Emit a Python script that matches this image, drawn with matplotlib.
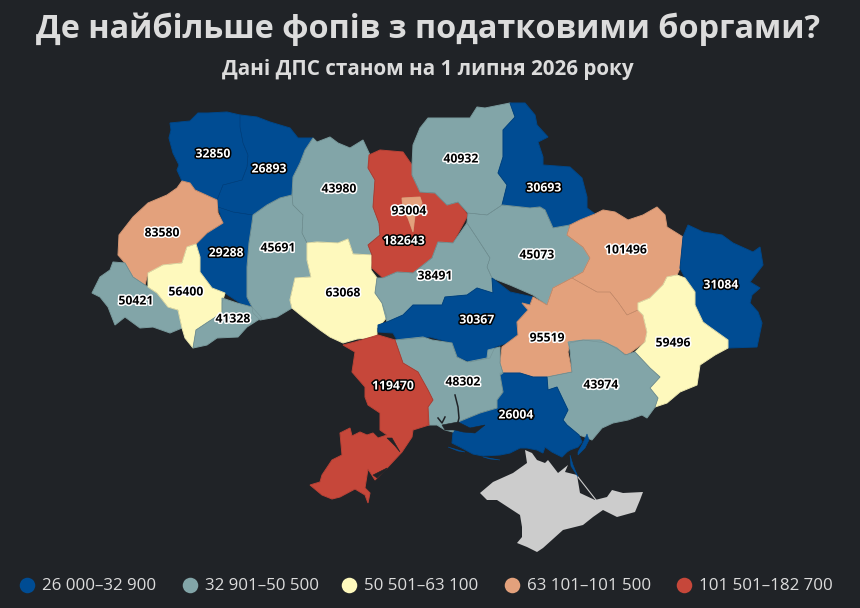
"""Tax-debt FOP map, regions drawn as outlines in picture pixels."""
import matplotlib
matplotlib.use("Agg")
import matplotlib.pyplot as plt
import matplotlib.patheffects as pe
import numpy as np

plt.rcParams["font.family"] = ["Open Sans", "DejaVu Sans"]

BG = "#202327"
TXT = "#dcdcdc"
COLORS = ["#004c93", "#82a5a8", "#fef9bd", "#e3a17c", "#c6473a"]
CRIMEA_COLOR = "#cccccc"

TITLE = "Де найбільше фопів з податковими боргами?"
SUBTITLE = "Дані ДПС станом на 1 липня 2026 року"
LEGEND_LABELS = ["26 000–32 900", "32 901–50 500", "50 501–63 100",
                 "63 101–101 500", "101 501–182 700"]
BIN_TOPS = [32900, 50500, 63100, 101500]

# region outlines (x, y in px of the reference)
VOLYN = [(170,123),(190,121),(198,113),(208,113),(227,112),(240,115),(240,127),(243,143),(248,155),(247,167),(242,180),(223,185),(217,200),(195,190),(190,183),(182,181),(177,170),(179,165),(173,153),(169,138),(171,130)]
RIVNE = [(240,115),(257,117),(270,122),(290,128),(298,138),(313,138),(305,150),(300,163),(293,177),(292,195),(280,198),(267,205),(253,215),(233,212),(218,207),(217,200),(223,185),(242,180),(247,167),(248,155),(243,143),(240,127)]
KHMELNYTSKYI = [(218,207),(223,223),(207,233),(196,244),(200,257),(200,272),(212,288),(225,293),(240,303),(252,307),(247,297),(247,267),(249,243),(252,223),(253,215),(233,212)]
LVIV = [(182,181),(190,183),(195,190),(217,200),(218,213),(223,223),(207,233),(196,244),(187,247),(182,263),(163,265),(148,273),(145,285),(133,277),(125,263),(118,255),(119,235),(133,217),(148,203),(167,195),(177,188)]
ZAKARPATTIA = [(113,262),(125,263),(133,277),(145,285),(148,287),(157,293),(168,307),(178,310),(182,328),(170,333),(153,327),(140,328),(125,317),(115,325),(108,307),(100,297),(92,293),(100,277),(110,270)]
IVANO_FR = [(148,273),(163,265),(182,263),(187,247),(196,244),(200,257),(200,272),(212,288),(225,293),(222,303),(222,313),(208,322),(196,330),(193,348),(185,338),(182,328),(178,310),(168,307),(157,293),(148,287)]
CHERNIVTSI = [(222,298),(237,303),(252,307),(262,318),(258,320),(247,327),(238,337),(217,338),(207,345),(193,348),(196,330),(208,322),(222,313)]
TERNOPIL = [(253,215),(267,205),(280,198),(292,195),(293,205),(303,215),(302,233),(307,243),(307,260),(311,277),(295,278),(290,300),(292,308),(277,317),(260,320),(253,313),(252,307),(247,297),(247,267),(249,243),(252,223)]
ZHYTOMYR = [(313,138),(317,142),(330,137),(338,143),(350,148),(363,140),(370,155),(368,168),(375,180),(373,207),(379,223),(380,235),(368,245),(372,255),(353,254),(348,239),(338,243),(317,242),(307,243),(302,233),(303,215),(293,205),(292,195),(293,177),(300,163),(305,150)]
VINNYTSIA = [(307,243),(317,242),(338,243),(348,239),(353,254),(372,255),(371,270),(377,278),(375,293),(382,303),(387,317),(383,322),(377,328),(377,337),(357,339),(343,343),(330,337),(320,330),(303,317),(292,308),(290,300),(295,278),(311,277),(307,260)]
KYIV_OBL = [(369,155),(380,150),(403,152),(412,165),(412,175),(420,192),(435,193),(447,205),(458,202),(468,215),(453,243),(438,242),(432,258),(413,273),(397,272),(383,278),(372,268),(372,255),(368,245),(380,235),(379,223),(373,207),(375,180),(368,168)]
KYIV_CITY = [(402,198),(420,197),(422,203),(415,215),(413,232),(408,218),(403,210)]
CHERNIHIV = [(412,165),(413,145),(420,128),(428,118),(440,118),(470,118),(477,107),(485,108),(510,103),(515,117),(503,130),(503,157),(498,173),(507,185),(502,205),(487,215),(468,213),(458,202),(447,205),(435,193),(420,192),(412,175)]
SUMY = [(510,103),(525,103),(535,115),(537,125),(548,137),(538,142),(543,157),(543,165),(570,167),(582,178),(587,197),(587,208),(595,214),(580,220),(570,225),(553,228),(545,210),(540,207),(530,208),(502,205),(507,185),(498,173),(503,157),(503,130),(515,117)]
POLTAVA = [(468,213),(487,215),(502,205),(530,208),(540,207),(545,210),(553,228),(570,225),(567,235),(583,247),(590,258),(583,272),(572,278),(553,288),(547,305),(533,295),(510,285),(492,278),(487,267),(490,258),(477,238),(467,223)]
CHERKASY = [(467,223),(477,238),(490,258),(487,267),(492,278),(493,293),(477,288),(467,295),(445,297),(442,305),(413,305),(403,315),(387,322),(382,303),(375,293),(377,278),(383,278),(397,272),(413,273),(432,258),(438,242),(453,243)]
KIROVOHRAD = [(378,325),(387,322),(403,315),(413,305),(442,305),(445,297),(467,295),(477,288),(493,293),(492,278),(510,292),(533,297),(530,305),(522,303),(528,310),(517,322),(518,335),(507,343),(495,347),(490,358),(470,362),(457,357),(452,343),(430,337),(397,340),(393,333),(378,332)]
KHARKIV = [(570,225),(580,220),(595,214),(603,210),(615,212),(628,220),(643,215),(657,207),(665,215),(667,227),(683,237),(680,268),(677,275),(667,277),(663,285),(650,298),(638,303),(638,310),(627,315),(618,302),(610,292),(597,292),(572,278),(583,272),(590,258),(583,247),(567,235)]
DNIPRO = [(500,363),(502,347),(518,335),(517,322),(528,310),(522,303),(530,305),(533,297),(547,305),(553,288),(572,278),(597,292),(610,292),(618,302),(627,315),(638,310),(643,315),(647,332),(645,342),(627,355),(607,343),(583,340),(570,343),(568,352),(572,372),(547,377),(533,377),(520,373),(503,373)]
LUHANSK = [(683,237),(688,225),(703,232),(722,235),(733,243),(753,252),(760,247),(763,265),(750,282),(760,288),(752,295),(750,303),(758,312),(762,323),(757,347),(728,348),(728,340),(707,325),(703,322),(695,305),(695,292),(685,278),(680,268)]
DONETSK = [(667,277),(677,275),(685,278),(695,292),(695,305),(703,322),(707,325),(728,340),(728,348),(715,355),(700,365),(697,385),(680,392),(667,403),(655,407),(658,398),(650,388),(660,377),(650,368),(635,352),(645,342),(647,332),(643,315),(638,310),(638,303),(650,298),(663,285)]
ZAPORIZHZHIA = [(568,342),(583,340),(600,340),(617,348),(625,355),(635,352),(650,368),(660,377),(650,388),(658,398),(655,407),(647,418),(642,415),(628,420),(613,423),(602,428),(592,440),(585,437),(579,435),(567,425),(563,420),(568,410),(557,387),(548,390),(547,377),(572,372),(570,350)]
KHERSON = [(500,373),(520,373),(533,377),(547,377),(548,390),(557,387),(568,410),(563,420),(567,425),(579,435),(582,442),(578,447),(570,450),(567,452),(562,457),(552,452),(545,447),(543,453),(537,450),(527,448),(520,448),(510,453),(500,455),(483,456),(473,454),(460,447),(452,443),(453,433),(458,422),(480,413),(497,408),(497,400),(503,392)]
MYKOLAIV = [(395,340),(423,337),(432,340),(452,343),(457,357),(467,362),(487,358),(488,350),(500,347),(500,363),(503,373),(500,375),(503,392),(497,400),(497,408),(480,413),(458,422),(453,432),(445,430),(437,425),(428,425),(428,407),(433,400),(428,390),(418,372),(403,363)]
ODESA = [(343,345),(355,342),(378,335),(395,340),(403,363),(418,372),(428,390),(433,400),(428,407),(429,425),(413,430),(412,437),(402,452),(388,467),(375,480),(368,469),(365,488),(370,493),(368,503),(365,495),(355,489),(340,497),(332,499),(322,495),(310,485),(320,482),(322,475),(332,460),(342,455),(340,433),(350,428),(352,436),(360,432),(367,435),(373,433),(378,438),(387,435),(380,430),(380,413),(368,405),(365,397),(365,387),(352,372),(355,352)]
CRIMEA = [(525,450),(532,453),(537,460),(545,463),(548,460),(558,473),(568,465),(565,472),(577,475),(580,493),(595,500),(607,497),(612,490),(623,493),(643,492),(640,500),(635,512),(617,517),(603,510),(593,517),(583,525),(563,530),(543,548),(537,552),(527,547),(517,543),(522,537),(522,527),(520,515),(497,500),(487,500),(480,493),(493,482),(513,473),(527,463)]

# water cut out of the land, and thin strips of coast
ESTUARY = [(442,425),(458,422),(470,428),(485,425),(475,433),(463,432),(455,430),(445,430)]
BUG_INLET = [(455,395),(458,407),(459,418),(458,422)]
INLET_BRANCH = [(445,417),(442,423),(438,418)]
LIMAN = [(387,438),(392,438),(400,452),(395,446)]
LAGOON = [(373,475),(387,468),(385,471),(377,478)]
KINBURN = [(448,447),(465,452),(458,451)]
TENDRA = [(483,457),(500,460),(490,459)]
ARABAT = [(570,455),(573,465),(578,477),(571,466)]
SIVASH = [(578,455),(585,448),(589,440),(587,434),(583,443),(578,452)]
ARABAT_TIP = [(578,477),(596,500)]

REGIONS = [VOLYN, RIVNE, KHMELNYTSKYI, LVIV, ZAKARPATTIA, IVANO_FR, CHERNIVTSI,
           TERNOPIL, ZHYTOMYR, VINNYTSIA, KYIV_OBL, KYIV_CITY, CHERNIHIV, SUMY,
           POLTAVA, CHERKASY, KIROVOHRAD, KHARKIV, DNIPRO, LUHANSK, DONETSK,
           ZAPORIZHZHIA, KHERSON, MYKOLAIV, ODESA]
VALUES = [32850, 26893, 29288, 83580, 50421, 56400, 41328,
          45691, 43980, 63068, 182643, 93004, 40932, 30693,
          45073, 38491, 30367, 101496, 95519, 31084, 59496,
          43974, 26004, 48302, 119470]
LABEL_XY = [(213,154), (269,169), (226,253), (162,233), (136,301), (186,292), (233,319),
            (278,248), (339,189), (343,293), (404,241), (409,211), (461,159), (544,188),
            (537,255), (435,276), (477,320), (626,250), (547,338), (721,285), (673,343),
            (601,385), (516,415), (463,382), (393,386)]

fig = plt.figure(figsize=(8.6, 6.08), dpi=100, facecolor=BG)
ax = fig.add_axes([0, 0, 1, 1])
ax.set_xlim(0, 860)
ax.set_ylim(608, 0)
ax.axis("off")

bins = np.digitize(VALUES, BIN_TOPS, right=True)
for outline, b in zip(REGIONS, bins):
    xs, ys = zip(*outline)
    ax.fill(xs, ys, facecolor=COLORS[b], edgecolor=COLORS[b], linewidth=0.7, zorder=2)
# faint borders on top, seen mostly between regions of one colour
for outline in REGIONS:
    xs, ys = zip(*outline)
    ax.fill(xs, ys, facecolor="none", edgecolor=(0, 0, 0, 0.10), linewidth=0.4, zorder=2.5)
# Kyiv city sits on top of the oblast
xs, ys = zip(*KYIV_CITY)
ax.fill(xs, ys, facecolor=COLORS[3], edgecolor="none", zorder=3)

xs, ys = zip(*CRIMEA)
ax.fill(xs, ys, facecolor=CRIMEA_COLOR, edgecolor="none", zorder=2)
for water in [ESTUARY, LIMAN, LAGOON]:
    xs, ys = zip(*water)
    ax.fill(xs, ys, facecolor=BG, edgecolor=BG, linewidth=0.4, zorder=3)
for strip in [KINBURN, TENDRA, ARABAT, SIVASH]:
    xs, ys = zip(*strip)
    ax.fill(xs, ys, facecolor=COLORS[0], edgecolor=COLORS[0], linewidth=0.4, zorder=3)
for line in [BUG_INLET, INLET_BRANCH]:
    xs, ys = zip(*line)
    ax.plot(xs, ys, color=BG, lw=1.1, zorder=3)
xs, ys = zip(*ARABAT_TIP)
ax.plot(xs, ys, color=CRIMEA_COLOR, lw=0.8, zorder=3)

for (x, y), v, b in zip(LABEL_XY, VALUES, bins):
    dark_fill = b in (0, 4)
    ax.text(x, y, str(v), ha="center", va="center", fontsize=8.8, fontweight="bold",
            color="white" if dark_fill else "black", zorder=5,
            path_effects=[pe.withStroke(linewidth=2.2, foreground="black" if dark_fill else "white")])

ax.text(428, 29, TITLE, ha="center", va="center", fontsize=23.3, fontweight="bold", color=TXT)
ax.text(428, 70, SUBTITLE, ha="center", va="center", fontsize=14.9, fontweight="bold", color=TXT)

LEGEND_DOT_X = [27, 190, 349, 512, 684]
for x, col, lab in zip(LEGEND_DOT_X, COLORS, LEGEND_LABELS):
    ax.scatter([x], [585], s=125, color=col, zorder=4, linewidths=0)
    ax.text(x + 15, 586, lab, ha="left", va="center", fontsize=12.2, color=TXT)

fig.savefig("out.png", dpi=100, facecolor=BG)
